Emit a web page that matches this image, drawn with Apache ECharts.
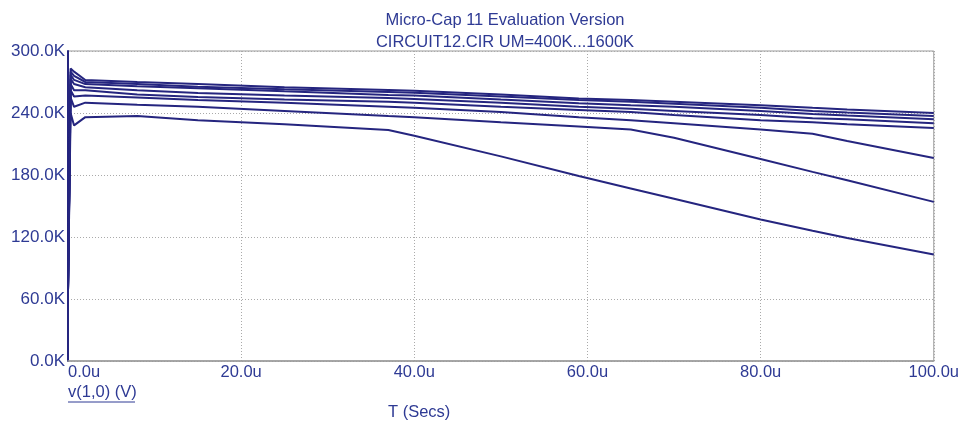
<!DOCTYPE html>
<html>
<head>
<meta charset="utf-8">
<script src="https://cdn.jsdelivr.net/npm/echarts@6/dist/echarts.min.js"></script>
<style>
  html, body { margin: 0; padding: 0; background: #fff; }
  #chart { width: 962px; height: 422px; }
</style>
</head>
<body>
<div id="chart"></div>
<script>
// time points in microseconds
var timeUs = [0, 0.3, 0.7, 2, 8, 15, 25, 37, 40, 50, 59, 65, 70, 80, 86, 90, 100];

// v(1,0) in kV, one array per UM step (top curve to bottom curve at 100u)
var curveA = [68, 283, 280, 272, 270, 268, 265, 262.3, 261.5, 258, 254, 252.5, 251, 247.5, 245, 243.5, 240];
var curveB = [68, 280, 276, 270, 268, 265.5, 263, 260.3, 259.5, 256, 252.6, 251, 249, 245, 242, 240.5, 237];
var curveC = [68, 277, 272, 268, 266, 264, 261, 257.5, 257, 253, 249.5, 247.5, 246, 242, 239, 237.5, 234];
var curveD = [68, 273, 268, 265, 262, 259.4, 257, 254.5, 253.5, 250, 246, 244, 242, 238, 235, 234, 230];
var curveE = [68, 268, 262, 262, 258, 255.5, 253, 251, 250, 246, 243, 241, 238, 233, 231, 229, 225.5];
var curveF = [68, 262, 256, 257, 255, 252.6, 250, 246, 245, 241, 236, 233, 230, 224, 220, 213, 196.5];
var curveG = [68, 255, 246, 250, 248, 246, 242, 237, 236, 231, 227, 224, 216, 195.5, 183, 175, 154];
var curveH = [68, 240, 228, 236, 237, 233, 229, 223.5, 218, 198, 179, 167, 157, 137, 126, 119, 103];

var curves = [curveA, curveB, curveC, curveD, curveE, curveF, curveG, curveH];

var xTicks = [0, 20, 40, 60, 80, 100];
var yTicks = [0, 60, 120, 180, 240, 300];

var lineColor = '#25257f';
var textColor = '#2e3a94';
var fontName = 'Liberation Sans';

var chart = echarts.init(document.getElementById('chart'));

var series = curves.map(function (vals) {
  return {
    type: 'line',
    showSymbol: false,
    animation: false,
    lineStyle: { color: lineColor, width: 2 },
    data: timeUs.map(function (t, i) { return [t, vals[i]]; })
  };
});

var option = {
  backgroundColor: '#fff',
  animation: false,
  title: {
    text: 'Micro-Cap 11 Evaluation Version',
    subtext: 'CIRCUIT12.CIR UM=400K...1600K',
    left: 500,
    textAlign: 'center',
    top: 7,
    itemGap: 5,
    textStyle: { color: textColor, fontSize: 16.5, fontWeight: 'normal', fontFamily: fontName },
    subtextStyle: { color: textColor, fontSize: 16.5, fontFamily: fontName }
  },
  grid: {
    left: 68, right: 27, top: 51, bottom: 61,
    show: true,
    borderColor: '#999',
    borderWidth: 1
  },
  xAxis: {
    type: 'value',
    min: xTicks[0],
    max: xTicks[xTicks.length - 1],
    interval: 20,
    axisLine: { show: true, lineStyle: { color: '#999', width: 1.5 } },
    axisTick: { show: false },
    splitLine: { show: true, lineStyle: { color: '#aaa', type: [1, 2], width: 1 } },
    axisLabel: {
      color: textColor, fontSize: 16.5, fontFamily: fontName, margin: 3,
      alignMinLabel: 'left',
      formatter: function (v) { return v.toFixed(1) + 'u'; }
    }
  },
  yAxis: {
    type: 'value',
    min: yTicks[0],
    max: yTicks[yTicks.length - 1],
    interval: 60,
    axisLine: { show: true, lineStyle: { color: lineColor, width: 2 } },
    axisTick: { show: false },
    splitLine: { show: true, lineStyle: { color: '#aaa', type: [1, 2], width: 1 } },
    axisLabel: {
      color: textColor, fontSize: 17, fontFamily: fontName, margin: 3,
      formatter: function (v) { return v.toFixed(1) + 'K'; }
    }
  },
  graphic: [
    {
      type: 'text', left: 68, top: 384,
      style: { text: 'v(1,0) (V)', fill: textColor, font: '16.5px "Liberation Sans"' }
    },
    {
      type: 'line',
      shape: { x1: 68, y1: 402, x2: 135, y2: 402 },
      style: { stroke: textColor, lineWidth: 1 }
    },
    {
      type: 'text', left: 388, top: 404,
      style: { text: 'T (Secs)', fill: textColor, font: '16.5px "Liberation Sans"' }
    }
  ],
  series: series
};

chart.setOption(option);
window.addEventListener('resize', function () { chart.resize(); }, false);
</script>
</body>
</html>
